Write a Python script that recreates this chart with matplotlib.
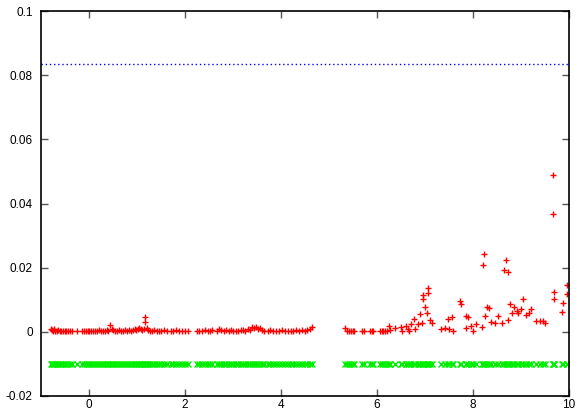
import matplotlib
matplotlib.use("Agg")
import matplotlib.pyplot as plt

# x positions of the samples (red + and green x share them)
x_left = [-0.79, -0.77, -0.75, -0.72, -0.70, -0.67, -0.64, -0.61, -0.58, -0.55,
          -0.51, -0.47, -0.43, -0.39, -0.35, -0.25, -0.15, -0.11, -0.07, -0.03,
          0.01, 0.05, 0.09, 0.13, 0.17, 0.21, 0.25, 0.29, 0.33, 0.37,
          0.40, 0.44, 0.47, 0.50, 0.54, 0.58, 0.63, 0.67, 0.71, 0.75,
          0.79, 0.83, 0.87, 0.91, 0.95, 0.98, 1.02, 1.05, 1.08, 1.11,
          1.14, 1.17, 1.17, 1.20, 1.23, 1.27, 1.31, 1.36, 1.41, 1.46,
          1.51, 1.56, 1.62, 1.71, 1.76, 1.82, 1.88, 1.94, 2.00, 2.06,
          2.24, 2.29, 2.35, 2.41, 2.47, 2.53, 2.57, 2.66, 2.71, 2.76,
          2.81, 2.86, 2.91, 2.96, 3.01, 3.06, 3.11, 3.16, 3.21, 3.26,
          3.31, 3.36, 3.40, 3.44, 3.48, 3.52, 3.56, 3.60, 3.64, 3.72,
          3.78, 3.84, 3.90, 3.96, 4.02, 4.08, 4.14, 4.20, 4.26, 4.32,
          4.38, 4.44, 4.50, 4.55, 4.60, 4.65]
y_left = [.0010, .0006, .0003, .0008, .0004, .0002, .0005, .0003, .0004, .0002,
          .0003, .0004, .0002, .0003, .0002, .0003, .0002, .0003, .0004, .0002,
          .0003, .0002, .0004, .0003, .0002, .0005, .0003, .0004, .0002, .0006,
          .0004, .0020, .0010, .0007, .0004, .0003, .0005, .0002, .0004, .0006,
          .0003, .0005, .0004, .0007, .0009, .0006, .0008, .0012, .0010, .0007,
          .0009, .0045, .0032, .0011, .0006, .0004, .0003, .0005, .0002, .0004,
          .0003, .0005, .0002, .0004, .0003, .0006, .0002, .0004, .0003, .0002,
          .0003, .0004, .0002, .0005, .0003, .0004, .0006, .0003, .0008, .0005,
          .0004, .0006, .0003, .0005, .0002, .0004, .0003, .0005, .0006, .0004,
          .0008, .0007, .0016, .0012, .0015, .0009, .0011, .0006, .0004, .0003,
          .0005, .0002, .0004, .0003, .0005, .0004, .0003, .0002, .0004, .0006,
          .0003, .0005, .0004, .0007, .0008, .0015]

x_right = [5.33, 5.38, 5.41, 5.45, 5.50, 5.53, 5.68, 5.72, 5.85, 5.89,
           5.92, 6.06, 6.10, 6.13, 6.17, 6.21, 6.25, 6.27, 6.38, 6.49,
           6.53, 6.60, 6.65, 6.67, 6.71, 6.78, 6.80, 6.85, 6.90, 6.94,
           6.96, 6.96, 7.01, 7.04, 7.07, 7.07, 7.10, 7.15, 7.33, 7.42,
           7.47, 7.49, 7.57, 7.58, 7.72, 7.74, 7.85, 7.86, 7.90, 7.95,
           8.00, 8.06, 8.18, 8.21, 8.22, 8.25, 8.30, 8.33, 8.38, 8.46,
           8.53, 8.61, 8.65, 8.68, 8.72, 8.72, 8.77, 8.82, 8.85, 8.91,
           8.94, 8.99, 9.05, 9.11, 9.17, 9.21, 9.32, 9.39, 9.46, 9.50,
           9.66, 9.67, 9.69, 9.69, 9.85, 9.88, 9.95, 9.95]
y_right = [.0013, .0004, .0003, .0004, .0003, .0004, .0003, .0002, .0004, .0003,
           .0003, .0004, .0003, .0003, .0004, .0003, .0019, .0006, .0013, .0015,
           .0003, .0019, .0008, .0002, .0025, .0040, .0008, .0025, .0055, .0027,
           .0102, .0115, .0076, .0060, .0120, .0136, .0037, .0027, .0008, .0013,
           .0040, .0010, .0047, .0004, .0095, .0087, .0011, .0050, .0045, .0017,
           .0003, .0023, .0015, .0209, .0243, .0048, .0078, .0074, .0030, .0028,
           .0050, .0026, .0193, .0224, .0185, .0037, .0087, .0058, .0077, .0066,
           .0058, .0072, .0102, .0053, .0058, .0072, .0033, .0033, .0034, .0027,
           .0367, .0488, .0124, .0102, .0061, .0089, .0146, .0117]

x_all = x_left + x_right
red_vals = y_left + y_right
green_vals = [-0.01] * len(x_all)   # flat series under the data
threshold = 1.0 / 12

xticks = [0, 2, 4, 6, 8, 10]
yticks = [-0.02, 0, 0.02, 0.04, 0.06, 0.08, 0.1]
ytick_labels = ["-0.02", "0", "0.02", "0.04", "0.06", "0.08", "0.1"]

plt.rcParams['font.family'] = ['Liberation Sans', 'DejaVu Sans']

fig = plt.figure(figsize=(5.76, 4.13), dpi=100)
ax = fig.add_axes([41/576, 17/413, 528/576, 385/413])

ax.plot(x_all, red_vals, linestyle='none', marker='+', color='#ff0000',
        markersize=5, markeredgewidth=1.0)
ax.plot(x_all, green_vals, linestyle='none', marker='x', color='#00ee00',
        markersize=4, markeredgewidth=1.0)
ax.axhline(threshold, color='#0000ff', linestyle=(0, (1, 2)), linewidth=1.0)

ax.set_xlim(-1, 10)
ax.set_ylim(-0.02, 0.1)
ax.set_xticks(xticks)
ax.set_xticklabels([str(t) for t in xticks])
ax.set_yticks(yticks)
ax.set_yticklabels(ytick_labels)
ax.tick_params(direction='in', top=True, right=True, length=5, width=1,
               color='#555555', labelsize=8.5)
ax.tick_params(axis='y', pad=6)
ax.tick_params(axis='x', pad=2)
for s in ax.spines.values():
    s.set_linewidth(1.2)

fig.savefig("out.png", dpi=100)
